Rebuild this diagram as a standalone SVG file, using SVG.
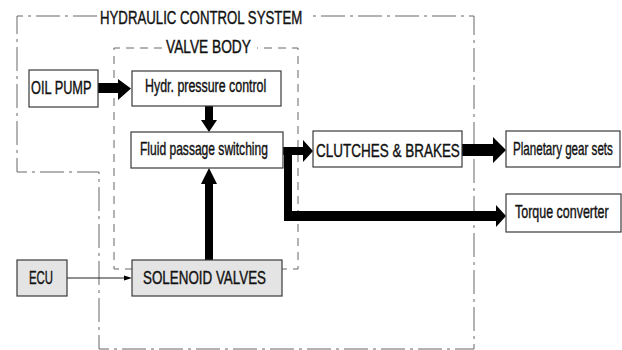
<svg xmlns="http://www.w3.org/2000/svg" width="622" height="350" viewBox="0 0 622 350">
<style>
  .box{fill:#fff;stroke:#3a3a3a;stroke-width:1.2}
  .gray{fill:#e4e4e4;stroke:#3a3a3a;stroke-width:1.2}
  .t{font-family:"Liberation Sans",Arial,sans-serif;fill:#111;stroke:#111;stroke-width:0.4}
  .cap{font-size:18px}
  .low{font-size:17.5px}
  .outer{fill:none;stroke:#666;stroke-width:1;stroke-dasharray:24 5 3 5}
  .valve{fill:none;stroke:#666;stroke-width:1;stroke-dasharray:8 6}
  .arr{fill:#000}
</style>
<rect width="622" height="350" fill="#fff"/>
<g id="boundaries">
  <path class="outer" d="M97,16 H17 V172 H99 V349 H474 V16 H310"/>
  <text class="t cap" transform="translate(100,24) scale(0.735,1)">HYDRAULIC CONTROL SYSTEM</text>
  <path class="valve" d="M162,48 H114 V269 H298 V48 H257"/>
  <text class="t cap" transform="translate(166,53) scale(0.763,1)">VALVE BODY</text>
</g>
<g id="connectors">
  <polygon class="arr" points="98,83 118,83 118,79 131,88.5 118,100 118,93 98,93"/>
  <polygon class="arr" points="205,106 213,106 213,120 217,120 209,132 201,120 205,120"/>
  <polygon class="arr" points="205,260 213,260 213,184 217,184 209,168 201,184 205,184"/>
  <polygon class="arr" points="283,147 303,147 303,140 313,151 303,162 303,155 292,155 292,211 496,211 496,205 506,216 496,227 496,221 284,221 284,155 283,155"/>
  <polygon class="arr" points="462,144 493,144 493,137 506,150 493,163 493,156 462,156"/>
  <line x1="67" y1="278" x2="124" y2="278" stroke="#222" stroke-width="1"/>
  <polygon class="arr" points="124,275.5 132,278 124,280.5"/>
</g>
<g id="oil-pump">
  <rect class="box" x="29" y="70" width="69" height="37"/>
  <text class="t cap" transform="translate(31,94) scale(0.709,1)">OIL PUMP</text>
</g>
<g id="hydr-pressure-control">
  <rect class="box" x="132" y="71" width="149" height="35"/>
  <text class="t low" transform="translate(145,92) scale(0.709,1)">Hydr. pressure control</text>
</g>
<g id="fluid-passage-switching">
  <rect class="box" x="131" y="132" width="152" height="36"/>
  <text class="t low" transform="translate(140,155) scale(0.689,1)">Fluid passage switching</text>
</g>
<g id="clutches-brakes">
  <rect class="box" x="313" y="131" width="149" height="36"/>
  <text class="t cap" transform="translate(316,157) scale(0.75,1)">CLUTCHES &amp; BRAKES</text>
</g>
<g id="planetary-gear-sets">
  <rect class="box" x="506" y="131" width="114" height="36"/>
  <text class="t low" transform="translate(513,155) scale(0.663,1)">Planetary gear sets</text>
</g>
<g id="torque-converter">
  <rect class="box" x="506" y="194" width="115" height="38"/>
  <text class="t low" transform="translate(515,218) scale(0.713,1)">Torque converter</text>
</g>
<g id="ecu">
  <rect class="gray" x="17" y="260" width="50" height="36"/>
  <text class="t cap" transform="translate(29,284) scale(0.632,1)">ECU</text>
</g>
<g id="solenoid-valves">
  <rect class="gray" x="132" y="260" width="150" height="36"/>
  <text class="t cap" transform="translate(143,284) scale(0.744,1)">SOLENOID VALVES</text>
</g>
</svg>
